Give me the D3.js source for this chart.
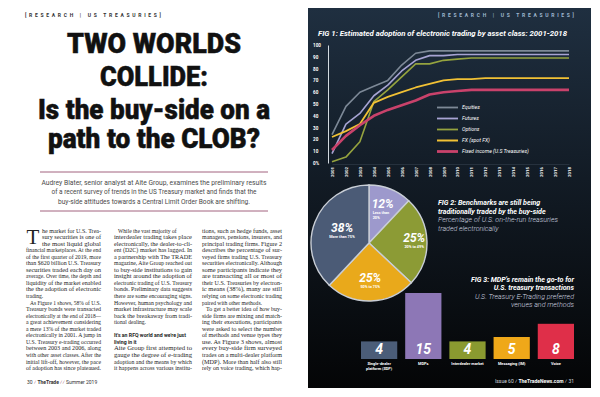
<!DOCTYPE html>
<html>
<head>
<meta charset="utf-8">
<script src="https://cdn.jsdelivr.net/npm/d3@7/dist/d3.min.js"></script>
<style>
  html, body { margin: 0; padding: 0; background: #fff; }
  svg { display: block; }
</style>
</head>
<body>
<svg id="page" width="600" height="397"></svg>
<script>
// ---------------- data ----------------
var years = [2001, 2002, 2003, 2004, 2005, 2006, 2007, 2008, 2009, 2010, 2011, 2012, 2013, 2014, 2015, 2016, 2017, 2018];
var equities    = [24, 48, 60, 65, 70, 83, 93, 95, 95, 95, 95, 95, 95, 95, 95, 95, 95, 95];
var futures     = [8, 33, 42, 57, 66, 78, 87, 91, 91, 92, 92, 92, 92, 92, 92, 92, 92, 92];
var options     = [1, 5, 18, 52, 62, 73, 84, 84, 87, 88, 89, 89, 89, 89, 89, 89, 89, 89];
var fxSpot      = [22, 27, 33, 51, 56, 60, 64, 67, 70, 71, 71, 72, 72, 72, 72, 72, 72, 72];
var fixedIncome = [11, 23, 32, 40, 45, 49, 53, 58, 60, 61, 62, 62, 62, 62, 62, 62, 62, 62];
var seriesNames = ["Equities", "Futures", "Options", "FX (spot FX)", "Fixed income (U.S Treasuries)"];
var yTicks = [0, 10, 20, 30, 40, 50, 60, 70, 80, 90, 100];

var pieLabels = ["Less than 20%", "20% to 49%", "50% to 75%", "More than 75%"];
var pieValues = [12, 25, 25, 38];

var venueNames = [["Single-dealer", "platform (SDP)"], ["MDPs"], ["Interdealer market"], ["Messaging (IM)"], ["Voice"]];
var venueCounts = [4, 15, 4, 5, 8];

var headline = ["TWO WORLDS", "COLLIDE:", "Is the buy-side on a", "path to the CLOB?"];
var standfirst = [
  "Audrey Blater, senior analyst at Aite Group, examines the preliminary results",
  "of a recent survey of trends in the US Treasury market and finds that the",
  "buy-side attitudes towards a Central Limit Order Book are shifting."
];
var col1 = [
  "he market for U.S. Trea-",
  "sury securities is one of",
  "the most liquid global",
  "financial marketplaces. At the end",
  "of the first quarter of 2019, more",
  "than $620 billion U.S. Treasury",
  "securities traded each day on",
  "average. Over time, the depth and",
  "liquidity of the market enabled",
  "the the adoption of electronic",
  "trading.",
  ">As Figure 1 shows, 58% of U.S.",
  "Treasury bonds were transacted",
  "electronically at the end of 2018\u2014",
  "a great achievement considering",
  "a mere 13% of the market traded",
  "electronically in 2001. A jump in",
  "U.S. Treasury e-trading occurred",
  "between 2003 and 2006, along",
  "with other asset classes. After the",
  "initial lift-off, however, the pace",
  "of adoption has since plateaued."
];
var col2 = [
  ">While the vast majority of",
  "interdealer trading takes place",
  "electronically, the dealer-to-cli-",
  "ent (D2C) market has lagged. In",
  "a partnership with The TRADE",
  "magazine, Aite Group reached out",
  "to buy-side institutions to gain",
  "insight around the adoption of",
  "electronic trading of U.S. Treasury",
  "bonds. Preliminary data suggests",
  "there are some encouraging signs.",
  "However, human psychology and",
  "market infrastructure may scale",
  "back the breakaway from tradi-",
  "tional dealing.",
  "",
  "#It's an RFQ world and we're just",
  "#living in it",
  "Aite Group first attempted to",
  "gauge the degree of e-trading",
  "adoption and the means by which",
  "it happens across various institu-"
];
var col3 = [
  "tions, such as hedge funds, asset",
  "managers, pensions, insurers, and",
  "principal trading firms. Figure 2",
  "describes the percentage of sur-",
  "veyed firms trading U.S. Treasury",
  "securities electronically. Although",
  "some participants indicate they",
  "are transacting all or most of",
  "their U.S. Treasuries by electron-",
  "ic means (38%), many are still",
  "relying on some electronic trading",
  "paired with other methods.",
  ">To get a better idea of how buy-",
  "side firms are mixing and match-",
  "ing their executions, participants",
  "were asked to select the number",
  "of methods and venue types they",
  "use. As Figure 3 shows, almost",
  "every buy-side firm surveyed",
  "trades on a multi-dealer platform",
  "(MDP). More than half also still",
  "rely on voice trading, which hap-"
];

// ---------------- setup ----------------
var svg = d3.select("#page");
var sans = "Roboto, 'Open Sans', 'DejaVu Sans', sans-serif";
var serif = "'Liberation Serif', 'DejaVu Serif', serif";

var defs = svg.append("defs");
var grad = defs.append("linearGradient").attr("id", "panelGrad")
  .attr("x1", 0).attr("y1", 0).attr("x2", 0).attr("y2", 1);
grad.append("stop").attr("offset", "0%").attr("stop-color", "#1f2f40");
grad.append("stop").attr("offset", "45%").attr("stop-color", "#121b25");
grad.append("stop").attr("offset", "100%").attr("stop-color", "#040506");

// ======== left page ========
var leftPage = svg.append("g");

leftPage.append("text")
  .attr("x", 25).attr("y", 17)
  .attr("font-family", sans).attr("font-weight", "bold").attr("font-size", 5)
  .attr("textLength", 136).attr("lengthAdjust", "spacing")
  .attr("fill", "#333")
  .text("[RESEARCH | US TREASURIES]");

var headBase = [53, 86, 119, 148];
var headWidth = [174, 108, 232, 212];
leftPage.selectAll("text.head")
  .data(headline)
  .enter().append("text")
  .attr("class", "head")
  .attr("x", 154).attr("y", function(d, i) { return headBase[i]; })
  .attr("text-anchor", "middle")
  .attr("font-family", sans).attr("font-weight", 900).attr("font-size", 27)
  .attr("textLength", function(d, i) { return headWidth[i]; })
  .attr("lengthAdjust", "spacingAndGlyphs")
  .attr("fill", "#111")
  .attr("stroke", "#111").attr("stroke-width", 0.5)
  .text(function(d) { return d; });

leftPage.append("line").attr("x1", 40).attr("x2", 268).attr("y1", 172).attr("y2", 172)
  .attr("stroke", "#8a3a5e").attr("stroke-width", 0.8);
leftPage.append("line").attr("x1", 40).attr("x2", 268).attr("y1", 211).attr("y2", 211)
  .attr("stroke", "#8a3a5e").attr("stroke-width", 0.8);

var standWidth = [225, 205, 192];
leftPage.selectAll("text.stand")
  .data(standfirst)
  .enter().append("text")
  .attr("class", "stand")
  .attr("x", 154).attr("y", function(d, i) { return 184.5 + i * 9.8; })
  .attr("text-anchor", "middle")
  .attr("font-family", sans).attr("font-size", 7.6)
  .attr("textLength", function(d, i) { return standWidth[i]; })
  .attr("lengthAdjust", "spacingAndGlyphs")
  .attr("fill", "#4a4a4a")
  .text(function(d) { return d; });

// drop cap
leftPage.append("text")
  .attr("x", 26.5).attr("y", 244)
  .attr("font-family", serif).attr("font-size", 21)
  .attr("fill", "#222")
  .text("T");

function drawColumn(lines, x0, w, dropLines) {
  var lineH = 6.55, y0 = 232.5;
  lines.forEach(function(ln, i) {
    if (!ln) return;
    var bold = ln[0] === "#", indent = ln[0] === ">";
    var s = (bold || indent) ? ln.slice(1) : ln;
    var dx = indent ? 4 : (i < dropLines ? 16 : 0);
    var t = leftPage.append("text")
      .attr("x", x0 + dx).attr("y", y0 + i * lineH)
      .attr("font-family", bold ? sans : serif)
      .attr("font-weight", bold ? "bold" : "normal")
      .attr("font-size", bold ? 5.2 : 5.6)
      .attr("fill", "#1e1e1e")
      .text(s);
    var avail = w - dx;
    var natural = t.node().getComputedTextLength();
    if (!bold && natural > avail * 0.8) {
      t.attr("textLength", avail).attr("lengthAdjust", "spacingAndGlyphs");
    }
  });
}
drawColumn(col1, 26, 75, 3);
drawColumn(col2, 114, 78, 0);
drawColumn(col3, 202, 80, 0);

var lf = leftPage.append("text").attr("x", 27).attr("y", 384)
  .attr("font-family", sans).attr("font-size", 5).attr("fill", "#333");
lf.append("tspan").text("30  ");
lf.append("tspan").attr("fill", "#8a3a5e").text("\u2044  ");
lf.append("tspan").attr("font-weight", "bold").text("TheTrade  ");
lf.append("tspan").attr("fill", "#8a3a5e").text("\u2044\u2044  ");
lf.append("tspan").text("Summer 2019");

// ======== right page ========
var right = svg.append("g");
right.append("rect")
  .attr("x", 308).attr("y", 8).attr("width", 283).attr("height", 380)
  .attr("fill", "url(#panelGrad)");

right.append("text")
  .attr("x", 574).attr("y", 17).attr("text-anchor", "end")
  .attr("font-family", sans).attr("font-weight", "bold").attr("font-size", 5)
  .attr("textLength", 136).attr("lengthAdjust", "spacing")
  .attr("fill", "#9fb8d0")
  .text("[RESEARCH | US TREASURIES]");

right.append("text")
  .attr("x", 318).attr("y", 36)
  .attr("font-family", sans).attr("font-weight", "bold").attr("font-style", "italic")
  .attr("font-size", 7.6)
  .attr("textLength", 249).attr("lengthAdjust", "spacingAndGlyphs")
  .attr("fill", "#fff")
  .text("FIG 1: Estimated adoption of electronic trading by asset class: 2001-2018");

// ---- FIG 1 line chart ----
var x = d3.scaleLinear().domain([2001, 2018]).range([332, 569]);
var y = d3.scaleLinear().domain([0, 100]).range([163, 45]);
var lineColors = ["#7d8997", "#a7a4d3", "#95a33f", "#f1c135", "#c9426b"];
var lineWidths = [1.6, 1.6, 1.6, 1.8, 2.6];
var seriesData = [equities, futures, options, fxSpot, fixedIncome];

var yAxis = right.append("g").attr("transform", "translate(328,0)")
  .call(d3.axisLeft(y).tickValues(yTicks).tickSize(0)
    .tickFormat(function(d) { return d === 0 ? "0%" : d; }));
yAxis.select(".domain").attr("stroke", "#e8eef4").attr("stroke-width", 0.9);
yAxis.selectAll("text")
  .attr("x", -15).attr("text-anchor", "start")
  .attr("font-family", sans).attr("font-weight", "bold").attr("font-size", 4.6)
  .attr("fill", "#fff");

var xAxis = right.append("g").attr("transform", "translate(0,164)")
  .call(d3.axisBottom(x).tickValues(years).tickSize(0).tickFormat(d3.format("d")));
xAxis.select(".domain").attr("stroke", "#3a4654").attr("stroke-width", 0.5);
xAxis.selectAll("text")
  .attr("transform", "rotate(-90)")
  .attr("x", -3).attr("y", 0).attr("dy", "0.35em")
  .attr("text-anchor", "end")
  .attr("font-family", sans).attr("font-weight", "bold").attr("font-size", 4.3)
  .attr("fill", "#fff");

var line = d3.line()
  .x(function(d, i) { return x(years[i]); })
  .y(function(d) { return y(d); });

right.selectAll("path.series")
  .data(seriesData)
  .enter().append("path")
  .attr("class", "series")
  .attr("d", line)
  .attr("fill", "none")
  .attr("stroke", function(d, i) { return lineColors[i]; })
  .attr("stroke-width", function(d, i) { return lineWidths[i]; })
  .attr("stroke-linejoin", "round");

// legend
var legend = right.selectAll("g.legend")
  .data(seriesNames)
  .enter().append("g")
  .attr("class", "legend")
  .attr("transform", function(d, i) { return "translate(437," + (107.5 + i * 11) + ")"; });
legend.append("line")
  .attr("x1", 0).attr("x2", 21)
  .attr("stroke", function(d, i) { return lineColors[i]; })
  .attr("stroke-width", function(d, i) { return lineWidths[i] + 0.2; });
legend.append("text")
  .attr("x", 25).attr("dy", "0.35em")
  .attr("font-family", sans).attr("font-style", "italic").attr("font-size", 5.2)
  .attr("fill", "#fff")
  .text(function(d) { return d; });

// ---- FIG 2 pie ----
var pieColors = ["#9d99cc", "#8c9b35", "#e9a91b", "#4b5b76"];
var labelR = [0.64, 0.78, 0.68, 0.5];
var pieR = 58;
var pieG = right.append("g").attr("transform", "translate(369,243)");
var pie = d3.pie().sort(null).value(function(d) { return d; });
var arc = d3.arc().innerRadius(0).outerRadius(pieR);
var arcs = pie(pieValues);

pieG.selectAll("path")
  .data(arcs)
  .enter().append("path")
  .attr("d", arc)
  .attr("fill", function(d, i) { return pieColors[i]; })
  .attr("stroke", "#c9ced6").attr("stroke-width", 1.4);

var pieLab = pieG.selectAll("g.plab")
  .data(arcs)
  .enter().append("g")
  .attr("class", "plab")
  .attr("transform", function(d, i) {
    var la = d3.arc().innerRadius(pieR * labelR[i]).outerRadius(pieR * labelR[i]);
    return "translate(" + la.centroid(d) + ")";
  });
pieLab.append("text")
  .attr("text-anchor", "middle")
  .attr("font-family", sans).attr("font-weight", "bold").attr("font-style", "italic")
  .attr("font-size", 12).attr("fill", "#fff")
  .text(function(d) { return d.data + "%"; });
pieLab.each(function(d, i) {
  var parts = i === 0 ? ["Less than", "20%"] : [pieLabels[i]];
  d3.select(this).selectAll("text.sub")
    .data(parts)
    .enter().append("text")
    .attr("class", "sub")
    .attr("text-anchor", i === 0 ? "start" : "middle")
    .attr("x", i === 0 ? -10 : 0)
    .attr("y", function(p, k) { return 6 + k * 4.6; })
    .attr("font-family", sans).attr("font-weight", "bold").attr("font-size", 3.8)
    .attr("fill", "#fff")
    .text(function(p) { return p; });
});

var fig2 = ["FIG 2: Benchmarks are still being", "traditionally traded by the buy-side",
  "Percentage of U.S. on-the-run treasuries", "traded electronically"];
right.selectAll("text.fig2")
  .data(fig2)
  .enter().append("text")
  .attr("class", "fig2")
  .attr("x", 438).attr("y", function(d, i) { return 205 + i * 8.7; })
  .attr("font-family", sans).attr("font-style", "italic")
  .attr("font-weight", function(d, i) { return i < 2 ? "bold" : "300"; })
  .attr("font-size", 7.1)
  .attr("fill", function(d, i) { return i < 2 ? "#fff" : "#d3d8e0"; })
  .text(function(d) { return d; });

// ---- FIG 3 bars ----
var fig3 = ["FIG 3: MDP's remain the go-to for", "U.S. treasury transactions",
  "U.S. Treasury E-Trading preferred", "venues and methods"];
right.selectAll("text.fig3")
  .data(fig3)
  .enter().append("text")
  .attr("class", "fig3")
  .attr("x", 574).attr("y", function(d, i) { return 282 + i * 8.4; })
  .attr("text-anchor", "end")
  .attr("font-family", sans).attr("font-style", "italic")
  .attr("font-weight", function(d, i) { return i < 2 ? "bold" : "300"; })
  .attr("font-size", 7.1)
  .attr("fill", function(d, i) { return i < 2 ? "#fff" : "#d3d8e0"; })
  .text(function(d) { return d; });

var barColors = ["#4b5d78", "#8d77b6", "#8a9a30", "#efa819", "#df2f49"];
var bx = d3.scaleBand().domain(d3.range(venueCounts.length)).range([361, 574])
  .paddingInner(0.18).paddingOuter(0);
var by = d3.scaleLinear().domain([0, 15]).range([359, 293]);

right.selectAll("rect.bar")
  .data(venueCounts)
  .enter().append("rect")
  .attr("class", "bar")
  .attr("x", function(d, i) { return bx(i); })
  .attr("y", function(d) { return by(d); })
  .attr("width", bx.bandwidth())
  .attr("height", function(d) { return by(0) - by(d); })
  .attr("fill", function(d, i) { return barColors[i]; });

right.selectAll("text.barval")
  .data(venueCounts)
  .enter().append("text")
  .attr("class", "barval")
  .attr("x", function(d, i) { return bx(i) + bx.bandwidth() / 2; })
  .attr("y", 354)
  .attr("text-anchor", "middle")
  .attr("font-family", sans).attr("font-weight", "bold").attr("font-style", "italic")
  .attr("font-size", 14).attr("fill", "#fff")
  .text(function(d) { return d; });

var vlab = right.selectAll("g.vlab")
  .data(venueNames)
  .enter().append("g")
  .attr("class", "vlab")
  .attr("transform", function(d, i) { return "translate(" + (bx(i) + bx.bandwidth() / 2) + ",365)"; });
vlab.selectAll("text")
  .data(function(d) { return d; })
  .enter().append("text")
  .attr("y", function(d, k) { return k * 5; })
  .attr("text-anchor", "middle")
  .attr("font-family", sans).attr("font-weight", "bold").attr("font-size", 3.9)
  .attr("fill", "#fff")
  .text(function(d) { return d; });

var rf = right.append("text").attr("x", 574).attr("y", 383).attr("text-anchor", "end")
  .attr("font-family", sans).attr("font-size", 5).attr("fill", "#cfd5dc");
rf.append("tspan").text("Issue 60  ");
rf.append("tspan").attr("fill", "#fff").text("\u2044  ");
rf.append("tspan").attr("font-weight", "bold").attr("fill", "#fff").text("TheTradeNews.com  ");
rf.append("tspan").attr("fill", "#fff").text("\u2044  ");
rf.append("tspan").text("31");
</script>
</body>
</html>
